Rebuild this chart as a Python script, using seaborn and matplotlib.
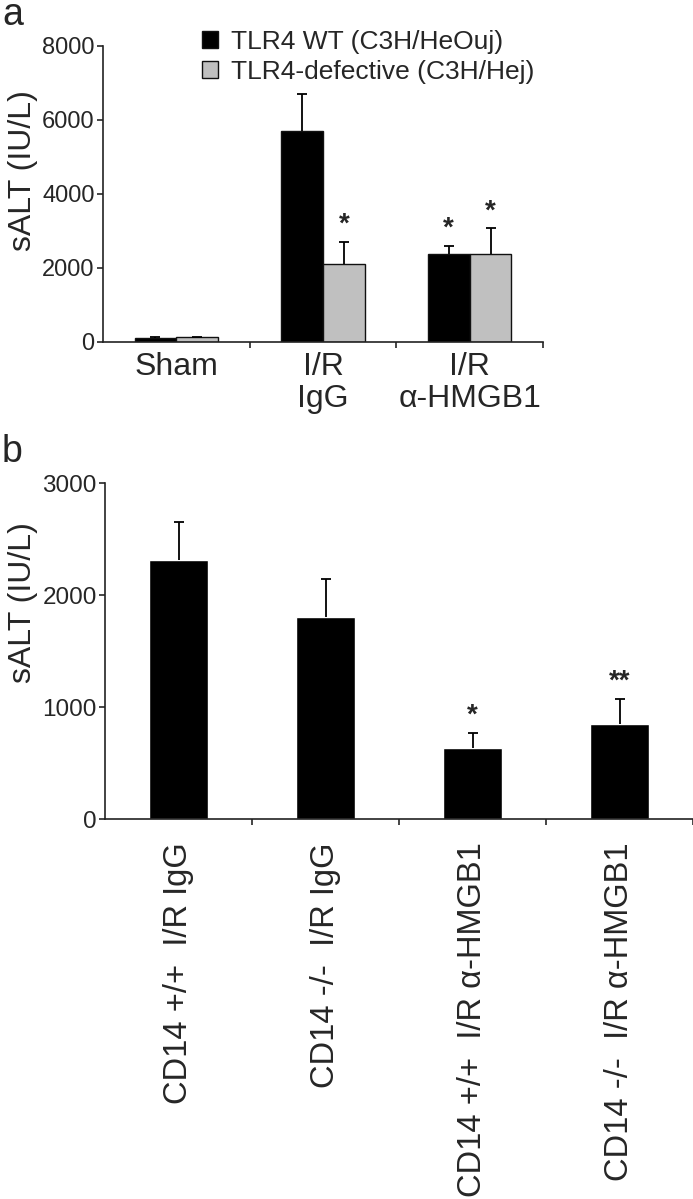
import matplotlib
matplotlib.use("Agg")
import matplotlib.pyplot as plt
from matplotlib.container import BarContainer
import seaborn as sns
import numpy as np
import pandas as pd

# ---------------- data ----------------
a_groups = ["Sham", "I/R\nIgG", "I/R\nα-HMGB1"]
a_strains = ["TLR4 WT (C3H/HeOuj)", "TLR4-defective (C3H/Hej)"]
a_wt_mean = [120, 5700, 2380]
a_wt_err = [20, 1000, 220]
a_def_mean = [130, 2120, 2380]
a_def_err = [15, 590, 690]
a_wt_stars = ["", "", "*"]
a_def_stars = ["", "*", "*"]
a_yticks = [0, 2000, 4000, 6000, 8000]

b_groups = ["CD14 +/+  I/R IgG", "CD14 -/-  I/R IgG",
            "CD14 +/+  I/R α-HMGB1", "CD14 -/-  I/R α-HMGB1"]
b_mean = [2310, 1800, 630, 845]
b_err = [345, 345, 140, 230]
b_stars = ["", "", "*", "**"]
b_yticks = [0, 1000, 2000, 3000]

ylabel = "sALT (IU/L)"
colors = ["#000000", "#c0c0c0"]

# ---------------- style ----------------
sns.set_theme(style="white")
plt.rcParams['font.family'] = ['Liberation Sans', 'DejaVu Sans']
plt.rcParams['axes.linewidth'] = 1.2
plt.rcParams['axes.edgecolor'] = '#222222'

W, H = 693, 1199
fig = plt.figure(figsize=(W / 100, H / 100), dpi=100)

def px_axes(l, r, t, b):
    return fig.add_axes([l / W, 1 - b / H, (r - l) / W, (b - t) / H])

def up_error(ax, xc, top, e):
    # upward-only error bar with a cap at the upper end only
    ax.errorbar([xc], [top], yerr=[[0], [e]], fmt='none', ecolor='black',
                elinewidth=1.3, capsize=0, zorder=5)
    ax.plot([xc], [top + e], marker='_', markersize=7, markeredgewidth=1.3,
            color='black', zorder=5)

# ---------------- panel a ----------------
axa = px_axes(103, 543, 46, 342)
dfa = pd.DataFrame({
    "group": a_groups * 2,
    "strain": [a_strains[0]] * 3 + [a_strains[1]] * 3,
    "value": a_wt_mean + a_def_mean,
})
sns.barplot(data=dfa, x="group", y="value", hue="strain", order=a_groups,
            hue_order=a_strains, palette=colors, errorbar=None, width=0.57,
            edgecolor="#111111", linewidth=1.0, saturation=1, ax=axa)
errs_a = [a_wt_err, a_def_err]
stars_a = [a_wt_stars, a_def_stars]
means_a = [a_wt_mean, a_def_mean]
bar_conts = [c for c in axa.containers if isinstance(c, BarContainer)]
for ci, cont in enumerate(bar_conts):
    for bar in cont:
        if bar is None:
            continue
        xc = bar.get_x() + bar.get_width() / 2
        gi = int(round(xc))
        top = means_a[ci][gi]
        e = errs_a[ci][gi]
        up_error(axa, xc, top, e)
        if stars_a[ci][gi]:
            axa.annotate(stars_a[ci][gi], xy=(xc, top + e), xytext=(0, 3),
                         textcoords='offset points', ha='center', va='bottom',
                         fontsize=20, fontweight='bold')
axa.set_xlim(-0.5, 2.5)
axa.set_ylim(0, 8000)
axa.set_yticks(a_yticks)
axa.set_yticklabels([str(v) for v in a_yticks], fontsize=17)
axa.set_xticks(range(len(a_groups)))
axa.set_xticklabels(a_groups, fontsize=23, linespacing=1.1)
axa.set_xticks([0.5, 1.5, 2.5], minor=True)
axa.tick_params(axis='x', which='major', length=0, pad=7)
axa.tick_params(axis='x', which='minor', length=4, width=1.2, direction='out', bottom=True)
axa.tick_params(axis='y', length=4, width=1.2, direction='out', left=True, pad=2)
axa.set_xlabel("")
axa.set_ylabel(ylabel, fontsize=23)
axa.yaxis.set_label_coords(-0.148, 0.58)
for s in ["top", "right"]:
    axa.spines[s].set_visible(False)
handles, labels = axa.get_legend_handles_labels()
if axa.legend_ is not None:
    axa.legend_.remove()
fig.legend(handles, labels, loc='upper left', bbox_to_anchor=(202 / W, 1 - 30 / H),
           frameon=False, fontsize=19, handlelength=0.6, handleheight=0.58,
           handletextpad=0.5, labelspacing=0.22, borderpad=0, borderaxespad=0)

# ---------------- panel b ----------------
axb = px_axes(105, 693, 483, 819)
dfb = pd.DataFrame({"group": b_groups, "value": b_mean})
sns.barplot(data=dfb, x="group", y="value", order=b_groups, color="black",
            errorbar=None, width=0.40, saturation=1, ax=axb)
for bar in list(axb.patches):
    xc = bar.get_x() + bar.get_width() / 2
    gi = int(round(xc))
    top = b_mean[gi]
    e = b_err[gi]
    up_error(axb, xc, top, e)
    if b_stars[gi]:
        axb.annotate(b_stars[gi], xy=(xc, top + e), xytext=(0, 3),
                     textcoords='offset points', ha='center', va='bottom',
                     fontsize=20, fontweight='bold')
axb.set_xlim(-0.5, 3.5)
axb.set_ylim(0, 3000)
axb.set_yticks(b_yticks)
axb.set_yticklabels([str(v) for v in b_yticks], fontsize=17.5)
axb.set_xticks(range(len(b_groups)))
axb.set_xticklabels(b_groups, fontsize=23.5, rotation=90, va='top', ha='center')
axb.set_xticks([0.5, 1.5, 2.5, 3.5], minor=True)
axb.tick_params(axis='x', which='major', length=0, pad=17)
axb.tick_params(axis='x', which='minor', length=4, width=1.2, direction='out', bottom=True)
axb.tick_params(axis='y', length=4, width=1.2, direction='out', left=True, pad=2)
axb.set_xlabel("")
axb.set_ylabel(ylabel, fontsize=23)
axb.yaxis.set_label_coords(-0.114, 0.643)
for s in ["top", "right"]:
    axb.spines[s].set_visible(False)

# panel letters
fig.text(2 / W, 1 - 25 / H, "a", fontsize=27, ha='left', va='baseline')
fig.text(2 / W, 1 - 462 / H, "b", fontsize=27, ha='left', va='baseline')

fig.savefig("out.png", dpi=100)
